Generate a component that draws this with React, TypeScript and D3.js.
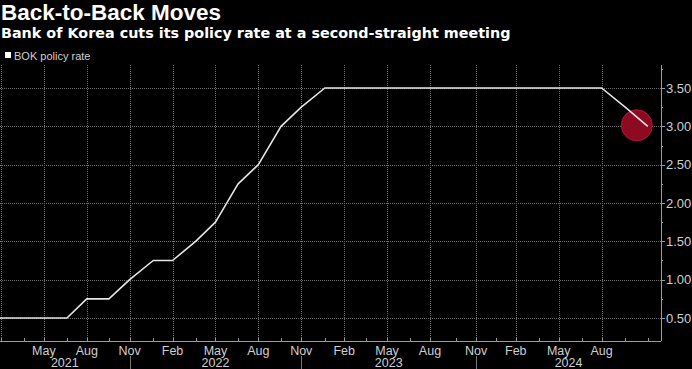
import { useEffect, useRef } from 'react';
import * as d3 from 'd3';

// BOK monetary policy meetings and the base rate decided at each one
const meetingDates = [
  '2021-01-15', '2021-02-25', '2021-04-15', '2021-05-27', '2021-07-15', '2021-08-26', '2021-10-12', '2021-11-25',
  '2022-01-14', '2022-02-24', '2022-04-14', '2022-05-26', '2022-07-13', '2022-08-25', '2022-10-12', '2022-11-24',
  '2023-01-13', '2023-02-23', '2023-04-11', '2023-05-25', '2023-07-13', '2023-08-24', '2023-10-19', '2023-11-30',
  '2024-01-11', '2024-02-22', '2024-04-12', '2024-05-23', '2024-07-11', '2024-08-22', '2024-10-11', '2024-11-28',
];
const policyRate = [
  0.5, 0.5, 0.5, 0.5, 0.5, 0.75, 0.75, 1.0,
  1.25, 1.25, 1.5, 1.75, 2.25, 2.5, 3.0, 3.25,
  3.5, 3.5, 3.5, 3.5, 3.5, 3.5, 3.5, 3.5,
  3.5, 3.5, 3.5, 3.5, 3.5, 3.5, 3.25, 3.0,
];
const yTicks = [0.5, 1.0, 1.5, 2.0, 2.5, 3.0, 3.5];
const yMinorTicks = [0.75, 1.25, 1.75, 2.25, 2.75, 3.25, 3.75];
const labelMonths = [1, 4, 7, 10]; // Feb, May, Aug, Nov

const title = 'Back-to-Back Moves';
const subtitle = 'Bank of Korea cuts its policy rate at a second-straight meeting';
const legendLabel = 'BOK policy rate';

const WIDTH = 692;
const HEIGHT = 369;

const App = () => {
  const svgRef = useRef<SVGSVGElement>(null);

  useEffect(() => {
    document.body.style.margin = '0';
    document.body.style.background = '#000';
    if (!svgRef.current) return;

    const svg = d3.select(svgRef.current);
    svg.selectAll('*').remove();

    const font = '"Liberation Sans", Arial, sans-serif';
    const wideFont = '"DejaVu Sans", Verdana, sans-serif';
    const plot = { left: 0, right: 661, top: 65, bottom: 341 };
    const parse = d3.timeParse('%Y-%m-%d');
    const data = meetingDates.map((d, i) => ({ date: parse(d) as Date, rate: policyRate[i] }));

    const x = d3.scaleTime()
      .domain([parse('2021-02-23') as Date, parse('2024-12-26') as Date])
      .range([plot.left, plot.right]);
    const y = d3.scaleLinear()
      .domain([0.2, 3.8])
      .range([plot.bottom, plot.top]);

    svg.append('rect').attr('width', WIDTH).attr('height', HEIGHT).attr('fill', '#000');

    // Titles
    svg.append('text')
      .attr('x', 1).attr('y', 20)
      .style('font-family', font).style('font-size', '22.5px').style('font-weight', 700)
      .attr('fill', '#fff')
      .text(title);
    svg.append('text')
      .attr('x', 1).attr('y', 38)
      .style('font-family', wideFont).style('font-size', '14.35px').style('font-weight', 700)
      .attr('fill', '#fff')
      .text(subtitle);

    // Legend
    svg.append('rect').attr('x', 5).attr('y', 52).attr('width', 6).attr('height', 6).attr('fill', '#fff');
    svg.append('text')
      .attr('x', 14).attr('y', 59.5)
      .style('font-family', font).style('font-size', '11px')
      .attr('fill', '#d0d0d0')
      .text(legendLabel);

    const inView = data.filter(d => x(d.date) >= plot.left && x(d.date) <= plot.right);
    const quarterTicks = inView.filter(d => labelMonths.includes(d.date.getMonth()) && x(d.date) < plot.right - 20);

    // Grid (dotted)
    const gridColor = '#6e6e6e';
    svg.selectAll('.hgrid')
      .data(yTicks)
      .join('line')
      .attr('class', 'hgrid')
      .attr('x1', plot.left).attr('x2', plot.right)
      .attr('y1', d => Math.round(y(d)) + 0.5).attr('y2', d => Math.round(y(d)) + 0.5)
      .attr('stroke', gridColor)
      .attr('stroke-dasharray', '1,1');
    svg.selectAll('.vgrid')
      .data(quarterTicks)
      .join('line')
      .attr('class', 'vgrid')
      .attr('x1', d => Math.round(x(d.date)) + 0.5).attr('x2', d => Math.round(x(d.date)) + 0.5)
      .attr('y1', plot.top).attr('y2', plot.bottom)
      .attr('stroke', gridColor)
      .attr('stroke-dasharray', '1,1');

    // Annotation circle at the latest cut
    const last = data[data.length - 1];
    svg.append('circle')
      .attr('cx', x(last.date) - 11)
      .attr('cy', y(last.rate) - 1)
      .attr('r', 15.5)
      .attr('fill', '#8e0a22')
      .attr('stroke', '#b3153a')
      .attr('stroke-width', 1);

    // Rate line
    svg.append('clipPath').attr('id', 'plot-clip')
      .append('rect')
      .attr('x', plot.left).attr('y', plot.top)
      .attr('width', plot.right - plot.left).attr('height', plot.bottom - plot.top);

    const line = d3.line<{ date: Date; rate: number }>()
      .x(d => x(d.date))
      .y(d => y(d.rate));

    svg.append('path')
      .datum(data)
      .attr('clip-path', 'url(#plot-clip)')
      .attr('fill', 'none')
      .attr('stroke', '#e6e6e6')
      .attr('stroke-width', 1.6)
      .attr('stroke-linejoin', 'round')
      .attr('d', line);

    // Right axis
    const axisColor = '#9a9a9a';
    svg.append('line')
      .attr('x1', plot.right + 0.5).attr('x2', plot.right + 0.5)
      .attr('y1', plot.top).attr('y2', plot.bottom)
      .attr('stroke', axisColor);
    svg.selectAll('.ytick')
      .data(yTicks)
      .join('line')
      .attr('class', 'ytick')
      .attr('x1', plot.right).attr('x2', plot.right + 4)
      .attr('y1', d => Math.round(y(d)) + 0.5).attr('y2', d => Math.round(y(d)) + 0.5)
      .attr('stroke', axisColor);
    svg.selectAll('.yminor')
      .data(yMinorTicks)
      .join('line')
      .attr('class', 'yminor')
      .attr('x1', plot.right).attr('x2', plot.right + 2)
      .attr('y1', d => Math.round(y(d)) + 0.5).attr('y2', d => Math.round(y(d)) + 0.5)
      .attr('stroke', axisColor);
    svg.selectAll('.ylabel')
      .data(yTicks)
      .join('text')
      .attr('class', 'ylabel')
      .attr('x', plot.right + 5)
      .attr('y', d => y(d) + 4.5)
      .style('font-family', font).style('font-size', '13px')
      .attr('fill', '#cfcfcf')
      .text(d => d.toFixed(2));

    // Bottom axis
    svg.append('line')
      .attr('x1', plot.left).attr('x2', plot.right)
      .attr('y1', plot.bottom + 0.5).attr('y2', plot.bottom + 0.5)
      .attr('stroke', axisColor);
    svg.selectAll('.xtick')
      .data(inView)
      .join('line')
      .attr('class', 'xtick')
      .attr('x1', d => Math.round(x(d.date)) + 0.5).attr('x2', d => Math.round(x(d.date)) + 0.5)
      .attr('y1', plot.bottom - 3).attr('y2', plot.bottom)
      .attr('stroke', axisColor);

    const monthFmt = d3.timeFormat('%b');
    svg.selectAll('.xlabel')
      .data(quarterTicks.filter(d => x(d.date) > 20))
      .join('text')
      .attr('class', 'xlabel')
      .attr('x', d => x(d.date))
      .attr('y', 354.5)
      .attr('text-anchor', 'middle')
      .style('font-family', font).style('font-size', '12.5px')
      .attr('fill', '#cfcfcf')
      .text(d => monthFmt(d.date));

    // Year bands split at the Nov ticks
    const novTicks = quarterTicks.filter(d => d.date.getMonth() === 10);
    const bounds = [plot.left, ...novTicks.map(d => x(d.date)), plot.right];
    const years = d3.range(bounds.length - 1).map(i => ({
      year: 2021 + i,
      mid: (bounds[i] + bounds[i + 1]) / 2,
    }));
    svg.selectAll('.ysep')
      .data(novTicks)
      .join('line')
      .attr('class', 'ysep')
      .attr('x1', d => Math.round(x(d.date)) + 0.5).attr('x2', d => Math.round(x(d.date)) + 0.5)
      .attr('y1', 356).attr('y2', HEIGHT)
      .attr('stroke', '#777');
    svg.selectAll('.yearlabel')
      .data(years)
      .join('text')
      .attr('class', 'yearlabel')
      .attr('x', d => d.mid)
      .attr('y', 367)
      .attr('text-anchor', 'middle')
      .style('font-family', font).style('font-size', '12.5px')
      .attr('fill', '#cfcfcf')
      .text(d => d.year);
  }, []);

  return (
    <svg ref={svgRef} width={WIDTH} height={HEIGHT} style={{ display: 'block', background: '#000' }} />
  );
};

export default App;
